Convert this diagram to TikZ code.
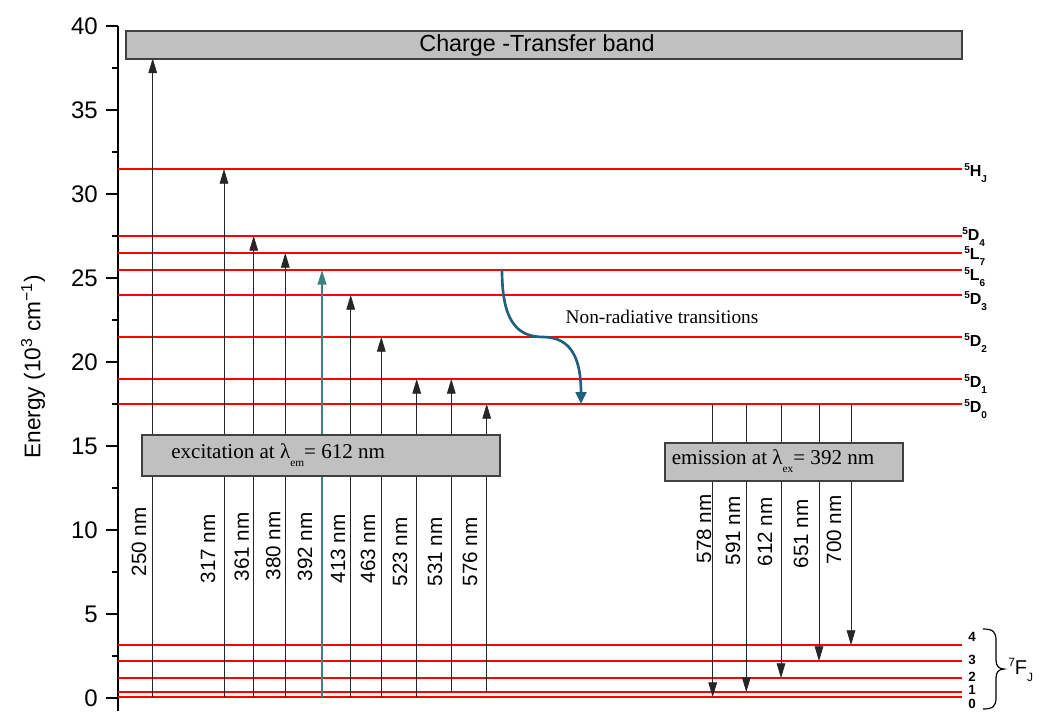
\documentclass[tikz,border=0pt]{standalone}
\usepackage{fontspec}
\setmainfont{Liberation Serif}
\setsansfont{Liberation Sans}
\usetikzlibrary{arrows.meta}
\definecolor{lvlred}{RGB}{255,0,0}
\definecolor{tealarr}{RGB}{62,128,130}
\definecolor{nrblue}{RGB}{30,96,125}
\definecolor{boxgray}{RGB}{192,192,192}
\newcommand{\lvlab}[3]{{\fontsize{7.5}{7.5}\selectfont\raisebox{5pt}{\textbf{#1}}}\textbf{#2}{\fontsize{7.5}{7.5}\selectfont\raisebox{-4.5pt}{\textbf{#3}}}}
\begin{document}
\begin{tikzpicture}[x=0.75pt,y=-0.75pt,font=\sffamily,
  level/.style={draw=lvlred,line width=1.3pt},
  uparr/.style={draw=black!85,line width=0.6pt,-{Triangle[length=11pt,width=6.5pt]}},
  dnarr/.style={draw=black!85,line width=0.6pt,-{Triangle[length=11pt,width=6.5pt]}},
  gbox/.style={draw=black!75,fill=boxgray,line width=0.8pt,inner sep=0pt},
  wl/.style={rotate=90,font=\sffamily\fontsize{15.5}{15.5}\selectfont,inner sep=0pt},
  tick/.style={line width=1.3pt},
  ticklab/.style={anchor=east,font=\sffamily\fontsize{18}{18}\selectfont,inner sep=0pt},
  slab/.style={anchor=west,inner sep=0pt,font=\sffamily\fontsize{12}{12}\selectfont},
  flab/.style={inner sep=0pt,font=\sffamily\bfseries\fontsize{10}{10}\selectfont}]
\useasboundingbox (0,0) rectangle (1043,711);

% axis
\coordinate (axtop) at (118,26);
\coordinate (axbot) at (118,711);
\draw[line width=1.5pt] (axtop) -- (axbot);
\foreach \v in {0,5,...,40}{
  \coordinate (tk\v) at (118,{698-16.8*\v});
  \draw[tick] (tk\v) -- ++(-12,0);
  \node[ticklab] (tl\v) at (98,{698-16.8*\v}) {\v};
}
\foreach \v [count=\i] in {2.5,7.5,12.5,17.5,22.5,27.5,32.5,37.5}{
  \coordinate (mt\i) at (118,{698-16.8*\v});
  \draw[tick] (mt\i) -- ++(-6,0);
}
\node[rotate=90,font=\sffamily\fontsize{17}{17}\selectfont] (ylab) at (33,367)
  {Energy (10\textsuperscript{3} cm\textsuperscript{−1})};

% levels
\foreach \n/\y in {HJ/169,D4/236,L7/253,L6/270,D3/295,D2/337,D1/379,D0/404,F4/645,F3/661,F2/678,F1/692,F0/697}{
  \coordinate (\n-l) at (118,\y);
  \coordinate (\n-r) at (962,\y);
  \draw[level] (\n-l) -- (\n-r);
}

% excitation arrows
\foreach \n/\x/\ya/\yb in {250/152.7/697/58.5,317/224/697/169,361/253.7/697/236,380/285.3/697/253,413/350.7/697/295,463/381.3/697/337,523/416.7/697/379,531/451.3/692/379,576/486.7/692/404}{
  \coordinate (u\n-a) at (\x,\ya);
  \coordinate (u\n-b) at (\x,\yb);
  \draw[uparr] (u\n-a) -- (u\n-b);
}
\coordinate (u392-a) at (322,697);
\coordinate (u392-b) at (322,270);
\draw[draw=tealarr,line width=1.7pt,-{Triangle[length=11pt,width=6.5pt]}] (u392-a) -- (u392-b);

% emission arrows
\foreach \n/\x/\yb in {578/712.7/697,591/746.3/692,612/781/678,651/819/661,700/851/645}{
  \coordinate (d\n-a) at (\x,404);
  \coordinate (d\n-b) at (\x,\yb);
  \draw[dnarr] (d\n-a) -- (d\n-b);
}

% boxes
\node[gbox,minimum width=627pt,minimum height=21pt] (ct) at (544,45) {};
\node[font=\sffamily\fontsize{17.5}{17.5}\selectfont] (cttxt) at (537,45) {Charge -Transfer band};
\node[gbox,minimum width=268.5pt,minimum height=30.75pt] (exbox) at (321,455.5) {};
\node[anchor=west,inner sep=0pt,font=\rmfamily\fontsize{15.8}{15.8}\selectfont] (extxt) at (171,455)
  {excitation at λ\raisebox{-6pt}{\fontsize{8.5}{8.5}\selectfont em}= 612 nm};
\node[gbox,minimum width=178.5pt,minimum height=28.5pt] (embox) at (784,462) {};
\node[anchor=west,inner sep=0pt,font=\rmfamily\fontsize{15.8}{15.8}\selectfont] (emtxt) at (671.5,461)
  {emission at λ\raisebox{-6pt}{\fontsize{8.5}{8.5}\selectfont ex}= 392 nm};

% non-radiative
\coordinate (nr-a) at (502,270);
\coordinate (nr-m) at (543,337);
\coordinate (nr-b) at (581,404);
\draw[draw=nrblue,line width=2pt,-{Triangle[length=9pt,width=8pt]}]
  (nr-a) .. controls (502,318) and (515,337) .. (nr-m) .. controls (572,337) and (581,360) .. (nr-b);
\node[font=\rmfamily\fontsize{14.5}{14.5}\selectfont] (nrtxt) at (662,317) {Non-radiative transitions};

% wavelength labels
\foreach \n/\x/\y in {250/139/542,317/208/549,361/241.7/547,380/273.3/546,392/305/547,413/338/549,463/368/549,523/400/552,531/435/552,576/470/552,578/704/529,591/733/531,612/765/532,651/801/534,700/834/530}{
  \node[wl] (w\n) at (\x,\y) {\n\ nm};
}

% state labels
\node[slab] (sHJ) at (964,173) {\lvlab{5}{H}{J}};
\node[slab] (sD4) at (962,237) {\lvlab{5}{D}{4}};
\node[slab] (sL7) at (964,256) {\lvlab{5}{L}{7}};
\node[slab] (sL6) at (964,277) {\lvlab{5}{L}{6}};
\node[slab] (sD3) at (964,301) {\lvlab{5}{D}{3}};
\node[slab] (sD2) at (964,343) {\lvlab{5}{D}{2}};
\node[slab] (sD1) at (964,384) {\lvlab{5}{D}{1}};
\node[slab] (sD0) at (964,409) {\lvlab{5}{D}{0}};

\node[flab] (f4) at (972,637) {4};
\node[flab] (f3) at (972,660) {3};
\node[flab] (f2) at (972,677) {2};
\node[flab] (f1) at (972,690) {1};
\node[flab] (f0) at (972,704) {0};

% brace
\coordinate (br-t) at (983,629);
\coordinate (br-c) at (1004,669);
\coordinate (br-b) at (983,709);
\draw[line width=0.9pt] (br-t) .. controls (993,629) and (996,632) .. (996,640) -- (996,660)
  .. controls (996,666) and (999,669) .. (br-c)
  .. controls (999,669) and (996,672) .. (996,678) -- (996,698)
  .. controls (996,706) and (993,709) .. (br-b);
\node[anchor=west,inner sep=0pt] (fj) at (1008,670)
  {\raisebox{5.5pt}{\fontsize{9}{9}\selectfont 7}{\fontsize{15}{15}\selectfont F}\raisebox{-5.5pt}{\fontsize{9}{9}\selectfont J}};
\end{tikzpicture}
\end{document}
